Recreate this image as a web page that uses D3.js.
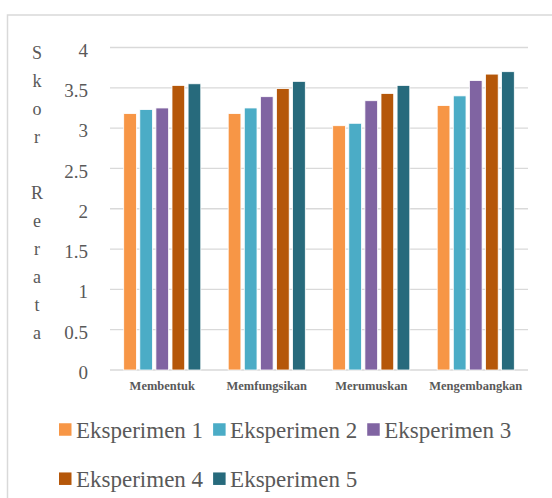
<!DOCTYPE html>
<html>
<head>
<meta charset="utf-8">
<script src="https://cdn.jsdelivr.net/npm/d3@7"></script>
<style>
  html, body { margin: 0; padding: 0; background: #fff; }
  svg { display: block; }
  svg text { font-family: "Liberation Serif", "Times New Roman", serif; }
</style>
</head>
<body>
<svg id="chart" width="552" height="498"></svg>
<script>
const categories = ["Membentuk", "Memfungsikan", "Merumuskan", "Mengembangkan"];
const seriesNames = ["Eksperimen 1", "Eksperimen 2", "Eksperimen 3", "Eksperimen 4", "Eksperimen 5"];
const eksperimen1 = [3.18, 3.18, 3.03, 3.28];
const eksperimen2 = [3.23, 3.25, 3.06, 3.40];
const eksperimen3 = [3.25, 3.39, 3.34, 3.59];
const eksperimen4 = [3.53, 3.49, 3.43, 3.67];
const eksperimen5 = [3.55, 3.58, 3.53, 3.70];
const yTicks = [0, 0.5, 1, 1.5, 2, 2.5, 3, 3.5, 4];
const yTitle = "Skor Rerata";
const colors = ["#F79646", "#4BACC6", "#8064A2", "#B55709", "#276A7C"];

const seriesValues = [eksperimen1, eksperimen2, eksperimen3, eksperimen4, eksperimen5];
const rows = categories.map((c, i) => ({
  category: c,
  values: seriesNames.map((s, j) => ({ series: s, idx: j, value: seriesValues[j][i] }))
}));

const svg = d3.select("#chart");
const font = "Liberation Serif";
const textColor = "#595959";

svg.append("rect").attr("width", 552).attr("height", 498).attr("fill", "#fff");
svg.append("rect")
  .attr("x", 7.5).attr("y", 15).attr("width", 600).attr("height", 600)
  .attr("fill", "none").attr("stroke", "#D9D9D9").attr("stroke-width", 1.5);

const plot = { left: 110, right: 528, top: 47.5, bottom: 370 };

const y = d3.scaleLinear().domain([0, 4]).range([plot.bottom, plot.top]);
const x0 = d3.scaleBand().domain(categories).range([plot.left, plot.right]).paddingInner(0).paddingOuter(0);
const groupW = 77.1;
const x1 = d3.scaleBand().domain(seriesNames)
  .range([(x0.bandwidth() - groupW) / 2, (x0.bandwidth() + groupW) / 2])
  .paddingInner(0.21).paddingOuter(0);
const color = d3.scaleOrdinal().domain(seriesNames).range(colors);

svg.append("g").selectAll("line").data(yTicks).join("line")
  .attr("x1", plot.left).attr("x2", plot.right)
  .attr("y1", d => y(d)).attr("y2", d => y(d))
  .attr("stroke", "#D9D9D9").attr("stroke-width", 1.3);

const yAxis = d3.axisLeft(y).tickValues(yTicks).tickSize(0).tickPadding(22)
  .tickFormat(d3.format("~g"));
const gy = svg.append("g").attr("transform", `translate(${plot.left},0)`).call(yAxis);
gy.select(".domain").remove();
gy.attr("font-family", null);
gy.selectAll("text")
  .style("font-family", font).style("font-size", "19px").attr("fill", textColor)
  .attr("dy", "0.45em");

const groups = svg.append("g").selectAll("g").data(rows).join("g")
  .attr("transform", d => `translate(${x0(d.category)},0)`);
groups.selectAll("rect").data(d => d.values).join("rect")
  .attr("x", d => x1(d.series))
  .attr("width", x1.bandwidth())
  .attr("y", d => y(d.value))
  .attr("height", d => y(0) - y(d.value))
  .attr("fill", d => color(d.series))
  .attr("stroke", "#fff").attr("stroke-width", 0.8);

const xAxis = d3.axisBottom(x0).tickSize(0).tickPadding(11);
const gx = svg.append("g").attr("transform", `translate(0,${plot.bottom})`).call(xAxis);
gx.select(".domain").remove();
gx.attr("font-family", null);
gx.selectAll("text")
  .style("font-family", font).style("font-size", "12.5px").style("font-weight", "bold")
  .attr("fill", textColor);

const letters = yTitle.split("");
svg.append("g").selectAll("text").data(letters).join("text")
  .attr("x", 37).attr("y", (d, i) => 53 + i * 28)
  .attr("dy", "0.35em")
  .attr("text-anchor", "middle")
  .style("font-family", font).style("font-size", "18px").attr("fill", textColor)
  .text(d => d);

const legend = svg.append("g");
const rowsY = [429.5, 478.7];
const perRow = [3, 2];
let k = 0;
rowsY.forEach((ly, r) => {
  let lx = 59;
  for (let c = 0; c < perRow[r]; c++, k++) {
    const name = seriesNames[k];
    legend.append("rect").attr("x", lx).attr("y", ly - 6.25).attr("width", 12.5).attr("height", 12.5)
      .attr("fill", color(name));
    const t = legend.append("text").attr("x", lx + 17).attr("y", ly).attr("dy", "0.35em")
      .style("font-family", font).style("font-size", "23px").attr("fill", textColor).text(name);
    lx += 17 + t.node().getComputedTextLength() + 10;
  }
});
</script>
</body>
</html>
